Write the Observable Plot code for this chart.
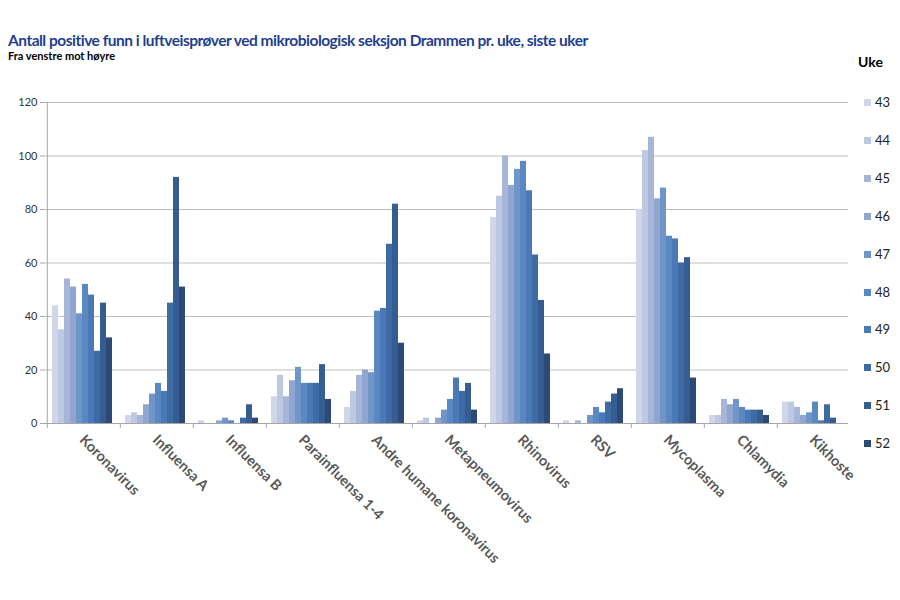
<!DOCTYPE html>
<html><head><meta charset="utf-8">
<script src="https://cdn.jsdelivr.net/npm/d3@7"></script>
<script src="https://cdn.jsdelivr.net/npm/@observablehq/plot@0.6"></script>
<style>
body{margin:0;background:#fff;font-family:Lato,"Open Sans",sans-serif;}
#wrap{position:relative;width:900px;height:600px;overflow:hidden;background:#fff}
#head{position:relative;height:90px}
#title{position:absolute;left:8px;top:31px;font-size:15.5px;letter-spacing:-0.5px;font-weight:bold;color:#1f3f8f;white-space:nowrap;line-height:18px}
#sub{position:absolute;left:8px;top:49px;font-size:11px;font-weight:bold;color:#000;white-space:nowrap;line-height:13px}
#legend{position:absolute;left:0;top:0;width:900px;height:600px;pointer-events:none}
.lg-title{position:absolute;left:858px;top:53px;font-size:14px;font-weight:bold;color:#000;line-height:18px}
.lg-item{position:absolute;left:864px;font-size:13px;color:#222;line-height:16px;white-space:nowrap}
.lg-sw{display:inline-block;width:7px;height:7px;margin-right:4px;vertical-align:1px}
</style></head>
<body>
<div id="wrap">
  <div id="head">
    <div id="title">Antall positive funn i luftveisprøver ved mikrobiologisk seksjon Drammen pr. uke, siste uker</div>
    <div id="sub">Fra venstre mot høyre</div>
  </div>
  <div id="chart"></div>
  <div id="legend"></div>
</div>
<script>
const categories = ["Koronavirus","Influensa A","Influensa B","Parainfluensa 1-4","Andre humane koronavirus","Metapneumovirus","Rhinovirus","RSV","Mycoplasma","Chlamydia","Kikhoste"];
const weeks = ["43","44","45","46","47","48","49","50","51","52"];

// values per category, weeks 43..52
const koronavirus    = [44,35,54,51,41,52,48,27,45,32];
const influensaA     = [3,4,3,7,11,15,12,45,92,51];
const influensaB     = [1,0,0,1,2,1,0,2,7,2];
const parainfluensa  = [10,18,10,16,21,15,15,15,22,9];
const andreKorona    = [6,12,18,20,19,42,43,67,82,30];
const metapneumo     = [1,2,0,2,5,9,17,12,15,5];
const rhinovirus     = [77,85,100,89,95,98,87,63,46,26];
const rsv            = [1,0,1,0,3,6,4,8,11,13];
const mycoplasma     = [80,102,107,84,88,70,69,60,62,17];
const chlamydia      = [3,3,9,7,9,6,5,5,5,3];
const kikhoste       = [8,8,6,3,4,8,1,7,2,0];

const yTicks = [0,20,40,60,80,100,120];
const weekColors = ["#cfd6e8","#bdc8e1","#a7b6d8","#90a5cf","#7096c9","#5a88c3","#4b79b8","#3f6ba5","#365d91","#2d4a76"];

const series = [koronavirus,influensaA,influensaB,parainfluensa,andreKorona,metapneumo,rhinovirus,rsv,mycoplasma,chlamydia,kikhoste];
const data = categories.flatMap((c,i)=>weeks.map((w,j)=>({category:c, week:w, value:series[i][j]})));
const boundaries = categories.map(c=>({category:c}));

const chart = Plot.plot({
  width:900, height:510,
  marginTop:12, marginBottom:177, marginLeft:44, marginRight:52,
  style:{fontFamily:"Lato, 'Open Sans', sans-serif", background:"transparent", overflow:"visible"},
  fx:{domain:categories, padding:0, label:null},
  x:{domain:weeks, paddingInner:0, paddingOuter:0.8, axis:null},
  y:{domain:[0,120], label:null},
  color:{domain:weeks, range:weekColors},
  marks:[
    Plot.ruleY(yTicks.slice(1), {stroke:"#bfbfbf", strokeWidth:1}),
    Plot.barY(data, {fx:"category", x:"week", y:"value", fill:"week"}),
    Plot.ruleY([0], {stroke:"#a6a6a6", strokeWidth:1}),
    Plot.ruleX(boundaries, {fx:"category", x:()=>weeks[0], y1:0, y2:-1.9, dx:-8.19, stroke:"#a6a6a6"}),
    Plot.ruleX([{category:categories[0]}], {fx:"category", x:()=>weeks[0], y1:0, y2:120, dx:-8.19, stroke:"#a6a6a6"}),
    Plot.axisY({ticks:yTicks, tickSize:5, tickPadding:3, fontSize:11, stroke:"#a6a6a6", fill:"#333", label:null}),
    Plot.axisFx({anchor:"bottom", tickRotate:45, tickSize:0, tickPadding:14, fontSize:14.5, fontWeight:"bold", fill:"#595959", label:null})
  ]
});
document.getElementById("chart").appendChild(chart);

// legend
const lg = d3.select("#legend");
lg.append("div").attr("class","lg-title").text("Uke");
weeks.forEach((w,i)=>{
  const it = lg.append("div").attr("class","lg-item").style("top",(94 + i*37.9)+"px");
  it.append("span").attr("class","lg-sw").style("background",weekColors[i]);
  it.append("span").text(w);
});
</script>
</body></html>
